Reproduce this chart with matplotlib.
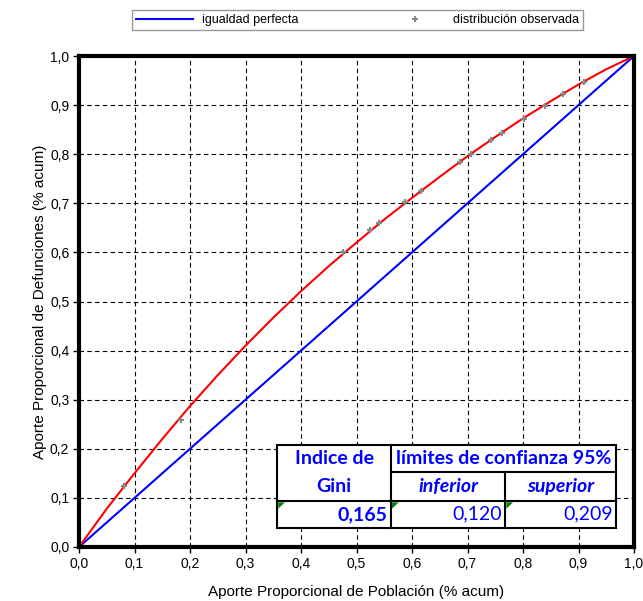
import matplotlib
matplotlib.use("Agg")
from matplotlib import pyplot as plt
from matplotlib.patches import Rectangle, Polygon
import numpy as np

# observed distribution (cumulative population share, cumulative deaths share)
obs_x = [0.0, 0.081, 0.184, 0.476, 0.524, 0.541, 0.587, 0.616, 0.686, 0.706,
         0.742, 0.762, 0.802, 0.840, 0.872, 0.910, 1.0]
obs_y = [0.0, 0.124, 0.259, 0.600, 0.646, 0.660, 0.703, 0.725, 0.784, 0.800,
         0.829, 0.843, 0.872, 0.898, 0.922, 0.947, 1.0]

# fitted curve
fit_x = [0.0, 0.05, 0.1, 0.15, 0.2, 0.25, 0.3, 0.35, 0.4, 0.45, 0.5,
         0.55, 0.6, 0.65, 0.7, 0.75, 0.8, 0.85, 0.9, 0.95, 1.0]
fit_y = [0.0, 0.078, 0.150, 0.220, 0.287, 0.350, 0.410, 0.467, 0.521, 0.572, 0.620,
         0.667, 0.711, 0.754, 0.796, 0.835, 0.873, 0.908, 0.942, 0.973, 1.0]

gini = "0,165"
lim_inf = "0,120"
lim_sup = "0,209"

ticks = np.round(np.arange(0, 1.01, 0.1), 1)
tick_labels = [f"{t:.1f}".replace(".", ",") for t in ticks]

plt.rcParams['font.family'] = ['Liberation Sans', 'DejaVu Sans']

fig = plt.figure(figsize=(6.43, 6.01), dpi=100)
ax = fig.add_axes([79/643, 1 - 547/601, 555/643, 491/601])

ax.plot([0, 1], [0, 1], color="#0000ff", lw=1.5, label="igualdad perfecta", zorder=3)
ax.plot(fit_x, fit_y, color="#ff0000", lw=1.5, zorder=3)
ax.plot(obs_x, obs_y, linestyle="none", marker="+", ms=4, mew=1.5, color="#888888",
        label="distribución observada", zorder=4)

ax.set_xlim(0, 1)
ax.set_ylim(0, 1)
ax.set_xticks(ticks)
ax.set_yticks(ticks)
ax.set_xticklabels(tick_labels, fontsize=10)
ax.set_yticklabels(tick_labels, fontsize=10)
ax.tick_params(direction="out", length=4, width=1, color="black", pad=3)
ax.grid(True, color="black", linestyle=(0, (4, 3)), lw=0.8)
for s in ax.spines.values():
    s.set_linewidth(3)
    s.set_zorder(5)

ax.set_xlabel("Aporte Proporcional de Población (% acum)", fontsize=11, labelpad=10)
ax.set_ylabel("Aporte Proporcional de Defunciones (% acum)", fontsize=11, labelpad=2)

leg = fig.legend(loc="center", bbox_to_anchor=(130/643, 1 - 31/601, 455/643, 22/601),
                 ncol=2, fontsize=9, frameon=True, fancybox=False, edgecolor="#808080",
                 handlelength=4.5, columnspacing=7, borderpad=0.35)
leg.get_frame().set_linewidth(1)

# Gini table
tx = [0.357, 0.562, 0.768, 0.968]
ty = [0.208, 0.153, 0.094, 0.039]
tc = "#0000ff"
tf = ['Lato', 'DejaVu Sans']
T = ax.transAxes
ax.add_patch(Rectangle((tx[0], ty[3]), tx[3] - tx[0], ty[0] - ty[3], transform=T,
                       facecolor="white", edgecolor="black", lw=1.5, zorder=6))
lines = [([tx[0], tx[3]], [ty[2], ty[2]]),
         ([tx[1], tx[3]], [ty[1], ty[1]]),
         ([tx[1], tx[1]], [ty[0], ty[3]]),
         ([tx[2], tx[2]], [ty[1], ty[3]])]
for lx, ly in lines:
    ax.plot(lx, ly, color="black", lw=1.5, transform=T, zorder=7, clip_on=False)

fs = 14
ax.text((tx[0] + tx[1]) / 2, (ty[0] + ty[1]) / 2, "Indice de", transform=T, ha="center",
        va="center", color=tc, fontsize=fs, fontweight="bold", family=tf, zorder=8)
ax.text((tx[0] + tx[1]) / 2, (ty[1] + ty[2]) / 2, "Gini", transform=T, ha="center",
        va="center", color=tc, fontsize=fs, fontweight="bold", family=tf, zorder=8)
ax.text((tx[1] + tx[3]) / 2, (ty[0] + ty[1]) / 2, "límites de confianza 95%", transform=T,
        ha="center", va="center", color=tc, fontsize=fs, fontweight="bold", family=tf, zorder=8)
ax.text((tx[1] + tx[2]) / 2, (ty[1] + ty[2]) / 2, "inferior", transform=T, ha="center",
        va="center", color=tc, fontsize=fs, fontweight="bold", style="italic", family=tf, zorder=8)
ax.text((tx[2] + tx[3]) / 2, (ty[1] + ty[2]) / 2, "superior", transform=T, ha="center",
        va="center", color=tc, fontsize=fs, fontweight="bold", style="italic", family=tf, zorder=8)
vals = [(gini, "bold"), (lim_inf, "normal"), (lim_sup, "normal")]
for i, (v, w) in enumerate(vals):
    ax.text(tx[i + 1] - 0.006, (ty[2] + ty[3]) / 2, v, transform=T, ha="right", va="center",
            color=tc, fontsize=fs, fontweight=w, family=tf, zorder=8)
    ax.add_patch(Polygon([(tx[i] + 0.002, ty[2] - 0.003), (tx[i] + 0.014, ty[2] - 0.003),
                          (tx[i] + 0.002, ty[2] - 0.016)], closed=True, transform=T,
                         facecolor="#008000", edgecolor="none", zorder=8))

fig.savefig("out.png", dpi=100)
